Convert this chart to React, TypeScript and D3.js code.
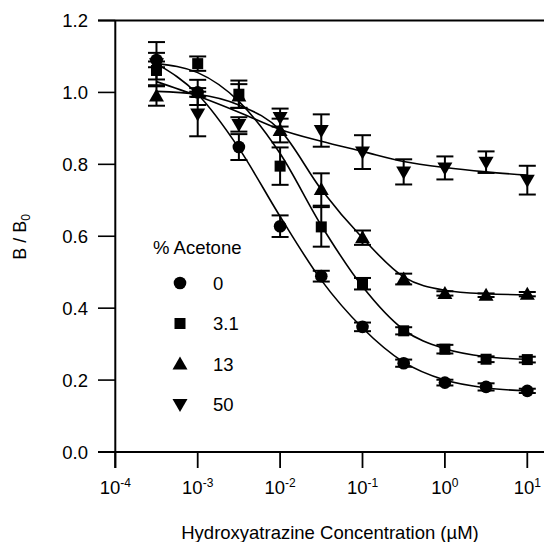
import React from "react";
import * as d3 from "d3";

// Concentrations (µM)
const concentrations = [3.16e-4, 1e-3, 3.16e-3, 1e-2, 3.16e-2, 1e-1, 3.16e-1, 1, 3.16, 10];

// B/B0 means and error bars per % acetone
const acetone0 = [1.09, 1.0, 0.848, 0.628, 0.489, 0.348, 0.247, 0.193, 0.181, 0.17];
const err0 = [0.02, 0.035, 0.036, 0.03, 0.015, 0.012, 0.01, 0.008, 0.01, 0.006];
const acetone3_1 = [1.061, 1.08, 0.995, 0.795, 0.626, 0.468, 0.337, 0.286, 0.258, 0.257];
const err3_1 = [0.025, 0.02, 0.038, 0.052, 0.055, 0.016, 0.01, 0.012, 0.008, 0.008];
const acetone13 = [0.99, 1.0, 0.99, 0.894, 0.73, 0.596, 0.481, 0.441, 0.436, 0.439];
const err13 = [0.027, 0.012, 0.033, 0.033, 0.045, 0.02, 0.015, 0.006, 0.005, 0.006];
const acetone50 = [1.08, 0.94, 0.911, 0.93, 0.894, 0.834, 0.779, 0.79, 0.806, 0.756];
const err50 = [0.06, 0.062, 0.02, 0.025, 0.045, 0.047, 0.035, 0.032, 0.03, 0.04];

// Fitted curves at the same concentrations
const fit0 = [1.08, 0.995, 0.845, 0.655, 0.478, 0.345, 0.25, 0.2, 0.178, 0.17];
const fit3_1 = [1.08, 1.055, 0.975, 0.83, 0.63, 0.46, 0.34, 0.287, 0.265, 0.258];
const fit13 = [1.003, 0.995, 0.965, 0.895, 0.73, 0.595, 0.487, 0.45, 0.44, 0.437];
const fit50 = [1.03, 0.99, 0.945, 0.897, 0.864, 0.836, 0.808, 0.791, 0.779, 0.77];

const seriesNames = ["0", "3.1", "13", "50"];
const seriesSymbols = ["circle", "square", "triangle", "triangleDown"];

const yTicks = [0, 0.2, 0.4, 0.6, 0.8, 1.0, 1.2];
const xTickExponents = [-4, -3, -2, -1, 0, 1];

const FONT = "'Liberation Sans', Arial, Helvetica, sans-serif";

function Marker({ type, cx, cy }: { type: string; cx: number; cy: number }) {
  if (type === "circle") return <circle cx={cx} cy={cy} r={6.3} fill="#000" />;
  if (type === "square") return <rect x={cx - 5.5} y={cy - 5.5} width={11} height={11} fill="#000" />;
  if (type === "triangle")
    return <path d={`M${cx},${cy - 7.5} L${cx + 7.5},${cy + 5.5} L${cx - 7.5},${cy + 5.5} Z`} fill="#000" />;
  return <path d={`M${cx},${cy + 7.5} L${cx + 7.5},${cy - 5.5} L${cx - 7.5},${cy - 5.5} Z`} fill="#000" />;
}

export default function App() {
  const x = d3.scaleLog().domain([1e-4, 10]).range([115.3, 527.3]);
  const y = d3.scaleLinear().domain([0, 1.2]).range([452, 20.5]);

  const series = [
    { name: seriesNames[0], sym: seriesSymbols[0], vals: acetone0, errs: err0, fit: fit0 },
    { name: seriesNames[1], sym: seriesSymbols[1], vals: acetone3_1, errs: err3_1, fit: fit3_1 },
    { name: seriesNames[2], sym: seriesSymbols[2], vals: acetone13, errs: err13, fit: fit13 },
    { name: seriesNames[3], sym: seriesSymbols[3], vals: acetone50, errs: err50, fit: fit50 },
  ];

  const line = d3
    .line<[number, number]>()
    .x((d) => x(d[0]))
    .y((d) => y(d[1]))
    .curve(d3.curveMonotoneX);

  const capW = 8.5;
  const legendX = 180;
  const legendY0 = 283;
  const legendStep = 40.5;

  return (
    <svg
      width={544}
      height={542}
      style={{ position: "absolute", left: 0, top: 0, display: "block", background: "#fff" }}
      fontFamily={FONT}
    >
      <rect width={544} height={542} fill="#fff" />
      {/* axes frame */}
      <line x1={98} x2={544} y1={y(1.2)} y2={y(1.2)} stroke="#000" strokeWidth={2} />
      <line x1={98} x2={544} y1={y(0)} y2={y(0)} stroke="#000" strokeWidth={2} />
      <line x1={x(1e-4)} x2={x(1e-4)} y1={y(1.2)} y2={468} stroke="#000" strokeWidth={2} />

      {/* y ticks */}
      {yTicks.map((t) => (
        <g key={t}>
          <line x1={98} x2={x(1e-4)} y1={y(t)} y2={y(t)} stroke="#000" strokeWidth={1.6} />
          <text x={88} y={y(t) + 6.5} textAnchor="end" fontSize={18.5} fill="#000">
            {t.toFixed(1)}
          </text>
        </g>
      ))}

      {/* x ticks */}
      {xTickExponents.map((e) => (
        <g key={e}>
          <line x1={x(Math.pow(10, e))} x2={x(Math.pow(10, e))} y1={y(0)} y2={468} stroke="#000" strokeWidth={1.8} />
          <text x={x(Math.pow(10, e))} y={494} textAnchor="middle" fontSize={18.5} fill="#000">
            <tspan>10</tspan>
            <tspan dy={-7} fontSize={12}>{e}</tspan>
          </text>
        </g>
      ))}

      {/* axis titles */}
      <text transform="translate(26,237) rotate(-90)" textAnchor="middle" fontSize={18} fill="#000">
        B / B<tspan dy={4} fontSize={12}>0</tspan>
      </text>
      <text x={330} y={539} textAnchor="middle" fontSize={18.5} fill="#000">
        Hydroxyatrazine Concentration (µM)
      </text>

      {/* fitted curves */}
      {series.map((s) => (
        <path
          key={"fit" + s.name}
          d={line(concentrations.map((c, i) => [c, s.fit[i]] as [number, number])) || ""}
          fill="none"
          stroke="#000"
          strokeWidth={1.6}
        />
      ))}

      {/* error bars and markers */}
      {series.map((s) => (
        <g key={"pts" + s.name}>
          {concentrations.map((c, i) => {
            const cx = x(c);
            const yt = y(s.vals[i] + s.errs[i]);
            const yb = y(s.vals[i] - s.errs[i]);
            return (
              <g key={i}>
                <line x1={cx} x2={cx} y1={yt} y2={yb} stroke="#000" strokeWidth={2} />
                <line x1={cx - capW} x2={cx + capW} y1={yt} y2={yt} stroke="#000" strokeWidth={2} />
                <line x1={cx - capW} x2={cx + capW} y1={yb} y2={yb} stroke="#000" strokeWidth={2} />
                <Marker type={s.sym} cx={cx} cy={y(s.vals[i])} />
              </g>
            );
          })}
        </g>
      ))}

      {/* legend */}
      <text x={153} y={253.5} fontSize={18.5} fill="#000">
        % Acetone
      </text>
      {series.map((s, i) => (
        <g key={"leg" + s.name}>
          <Marker type={s.sym} cx={legendX} cy={legendY0 + i * legendStep} />
          <text x={213} y={legendY0 + i * legendStep + 6.5} fontSize={18.5} fill="#000">
            {s.name}
          </text>
        </g>
      ))}
    </svg>
  );
}
